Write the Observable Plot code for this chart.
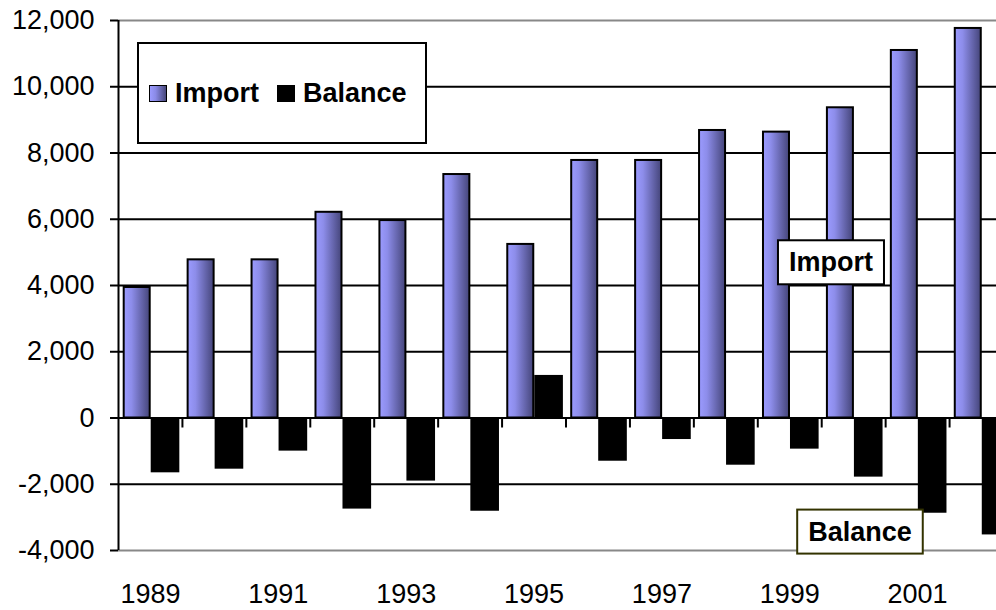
<!DOCTYPE html>
<html>
<head>
<meta charset="utf-8">
<script src="https://cdn.jsdelivr.net/npm/d3@7"></script>
<script src="https://cdn.jsdelivr.net/npm/@observablehq/plot@0.6"></script>
<style>
  html, body { margin: 0; padding: 0; background: #fff; overflow: hidden; }
  #wrap { position: relative; width: 996px; height: 610px; overflow: hidden;
          font-family: "Liberation Sans", Arial, sans-serif; }
  #wrap svg { overflow: hidden; display: block; }
  #legend { position: absolute; left: 137px; top: 42px; width: 290px; height: 102px;
            box-sizing: border-box; border: 2px solid #000; background: #fff;
            display: flex; align-items: center; padding-left: 10px;
            font-weight: bold; font-size: 27px; color: #000; }
  .sw { width: 18px; height: 17px; box-sizing: border-box; border: 1.5px solid #000; margin-right: 8px; }
  .sw.imp { background: linear-gradient(to right, #9b9bff, #8a8ae6 35%, #47477a); }
  .sw.bal { background: #000; margin-left: 18px; }
</style>
</head>
<body>
<div id="wrap"></div>
<script>
// ---- data ----
const years = [1989, 1990, 1991, 1992, 1993, 1994, 1995, 1996, 1997, 1998, 1999, 2000, 2001, 2002];
const importValues = [3940, 4775, 4775, 6210, 5960, 7350, 5240, 7775, 7775, 8680, 8630, 9365, 11095, 11760];
const balanceValues = [-1655, -1545, -1000, -2750, -1905, -2815, 1285, -1305, -650, -1425, -940, -1785, -2875, -3530];
const yTicks = [-4000, -2000, 0, 2000, 4000, 6000, 8000, 10000, 12000];
const xTickLabels = [1989, 1991, 1993, 1995, 1997, 1999, 2001];
const seriesNames = ["Import", "Balance"];
const annotations = [
  {label: "Import", year: 2000, value: 4690},
  {label: "Balance", year: 2000, value: -3440}
];

// ---- styles ----
const boxStroke = {Import: "#000000", Balance: "#333300"};
const annDx = {Import: -22.7, Balance: 6.3};

const rows = years.map((y, i) => ({year: y, import: importValues[i], balance: balanceValues[i]}));
const innerGrid = yTicks.filter(v => v !== yTicks[0] && v !== yTicks[yTicks.length - 1]);
const outerGrid = [yTicks[0], yTicks[yTicks.length - 1]];

const xRange = [118, 1013];
const bw = (xRange[1] - xRange[0]) / years.length;

const chart = Plot.plot({
  width: 996,
  height: 610,
  marginLeft: 118,
  marginRight: 0,
  marginTop: 20,
  marginBottom: 60,
  style: {fontFamily: '"Liberation Sans", Arial, sans-serif', fontSize: "27px", color: "#000", background: "#fff"},
  x: {type: "band", domain: years, range: xRange, padding: 0, round: false, axis: null},
  y: {domain: [yTicks[0], yTicks[yTicks.length - 1]], range: [550, 20], axis: null},
  marks: [
    Plot.ruleY(innerGrid, {y: d => d, stroke: "#000", strokeWidth: 2}),
    Plot.ruleY(outerGrid, {y: d => d, stroke: "#888", strokeWidth: 2}),
    Plot.barY(rows, {x: "year", y: "import", fill: "url(#impGrad)", stroke: "#000", strokeWidth: 2,
                     insetLeft: 5.7, insetRight: bw - 31.7}),
    Plot.barY(rows, {x: "year", y: "balance", fill: "#000",
                     insetLeft: 32.7, insetRight: 2.6}),
    Plot.ruleY([0], {y: d => d, stroke: "#000", strokeWidth: 2}),
    Plot.ruleX(years.slice(0, -1), {x: d => d, y1: 0, y2: 0, insetBottom: -10, dx: bw / 2, stroke: "#000", strokeWidth: 2}),
    Plot.ruleX([years[0]], {x: d => d, dx: -bw / 2, stroke: "#000", strokeWidth: 2}),
    Plot.axisY({ticks: yTicks, tickFormat: d => d.toLocaleString("en-US"), tickSize: 8, tickPadding: 16,
                fontSize: 27, stroke: "#000", strokeWidth: 2, label: null}),
    Plot.axisX({ticks: xTickLabels, tickFormat: d => String(d), tickSize: 0, tickPadding: 33, fontSize: 27, label: null}),
    Plot.text(annotations, {x: "year", y: "value", text: "label", fontSize: 27, fontWeight: "bold", fill: "#000"})
  ]
});

document.getElementById("wrap").appendChild(chart);

const NS = "http://www.w3.org/2000/svg";
const defs = document.createElementNS(NS, "defs");
defs.innerHTML = '<linearGradient id="impGrad" x1="0" x2="1" y1="0" y2="0">' +
  '<stop offset="0" stop-color="#9b9bff"/><stop offset="0.3" stop-color="#8d8dea"/>' +
  '<stop offset="1" stop-color="#45457a"/></linearGradient>';
chart.insertBefore(defs, chart.firstChild);

// boxed annotation labels (the text mark is the last group)
const gs = Array.from(chart.children).filter(e => e.tagName.toLowerCase() === "g");
const annG = gs[gs.length - 1];
Array.from(annG.querySelectorAll("text")).forEach((t, i) => {
  const lab = annotations[i].label;
  const tr = (t.getAttribute("transform") || "") + ` translate(${annDx[lab]},0)`;
  t.setAttribute("transform", tr);
  const bb = t.getBBox();
  const r = document.createElementNS(NS, "rect");
  r.setAttribute("transform", tr);
  r.setAttribute("x", bb.x - 11);
  r.setAttribute("y", bb.y - 7);
  r.setAttribute("width", bb.width + 22);
  r.setAttribute("height", bb.height + 14);
  r.setAttribute("fill", "#fff");
  r.setAttribute("stroke", boxStroke[lab]);
  r.setAttribute("stroke-width", 2);
  annG.insertBefore(r, t);
});

const legend = document.createElement("div");
legend.id = "legend";
legend.innerHTML = `<div class="sw imp"></div><span>${seriesNames[0]}</span><div class="sw bal"></div><span>${seriesNames[1]}</span>`;
document.getElementById("wrap").appendChild(legend);
</script>
</body>
</html>
